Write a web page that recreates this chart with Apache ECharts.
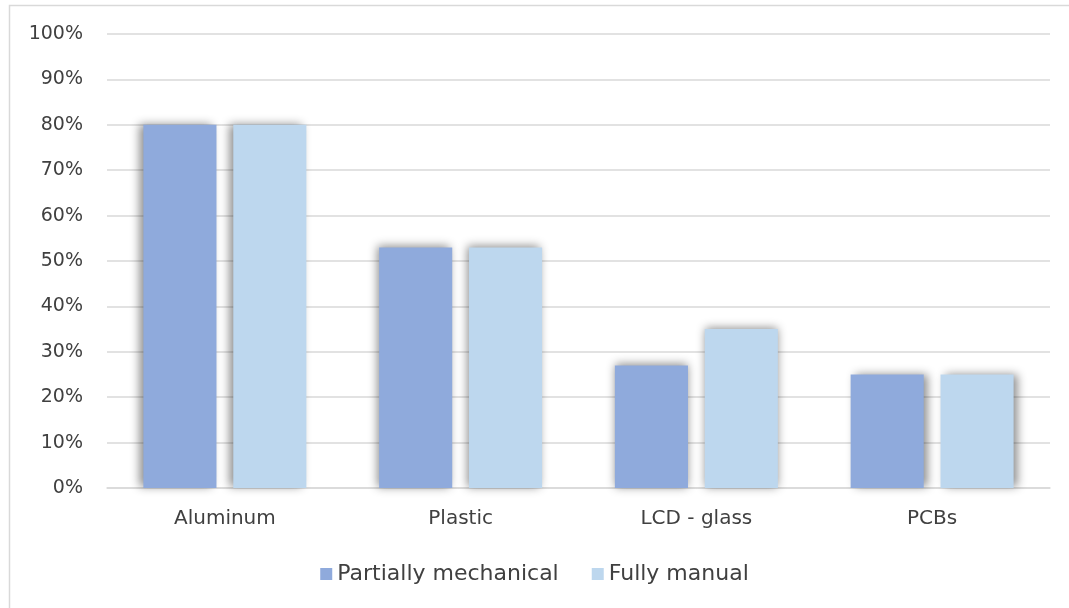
<!DOCTYPE html>
<html>
<head>
<meta charset="utf-8">
<script src="https://cdn.jsdelivr.net/npm/echarts@6/dist/echarts.min.js"></script>
<style>
  html, body { margin: 0; padding: 0; background: #ffffff; }
  #chart { width: 1069px; height: 608px; }
</style>
</head>
<body>
<div id="chart"></div>
<script>
// Share of material recovered, by dismantling method
const categories = ['Aluminum', 'Plastic', 'LCD - glass', 'PCBs'];
const partiallyMechanical = [80, 53, 27, 25];
const fullyManual = [80, 53, 35, 25];
const yTicks = [0, 10, 20, 30, 40, 50, 60, 70, 80, 90, 100];

// Soft drop shadow that leans outward from the chart centre
const shadowShift = [-4, -2, 0, 4];

const textColor = '#404040';
const fontFamily = '"DejaVu Sans", "Open Sans", sans-serif';

function withShadow(values) {
  return values.map((v, i) => ({
    value: v,
    itemStyle: {
      shadowBlur: 9,
      shadowColor: 'rgba(0,0,0,0.45)',
      shadowOffsetX: shadowShift[i],
      shadowOffsetY: -1
    }
  }));
}

const chart = echarts.init(document.getElementById('chart'), null, { renderer: 'canvas' });
chart.setOption({
  animation: false,
  backgroundColor: '#ffffff',
  textStyle: { fontFamily: fontFamily, color: textColor },
  graphic: [{
    type: 'rect',
    shape: { x: 9.5, y: 5.5, width: 1080, height: 620 },
    style: { fill: 'none', stroke: '#d9d9d9', lineWidth: 1.5 },
    silent: true,
    z: -10
  }],
  grid: { left: 107, right: 19, top: 34, bottom: 120, containLabel: false },
  legend: {
    top: 558,
    left: 'center',
    itemWidth: 12,
    itemHeight: 12,
    itemGap: 33,
    icon: 'rect',
    textStyle: { fontSize: 22, color: textColor, fontFamily: fontFamily },
    data: ['Partially mechanical', 'Fully manual']
  },
  xAxis: {
    type: 'category',
    data: categories,
    axisTick: { show: false },
    axisLine: { lineStyle: { color: '#d9d9d9', width: 1.5 } },
    axisLabel: { fontSize: 20, color: textColor, margin: 21, fontFamily: fontFamily }
  },
  yAxis: {
    type: 'value',
    min: yTicks[0],
    max: yTicks[yTicks.length - 1],
    interval: yTicks[1] - yTicks[0],
    axisLine: { show: false },
    axisTick: { show: false },
    splitLine: { lineStyle: { color: '#d9d9d9', width: 1.5 } },
    axisLabel: { fontSize: 19, color: textColor, margin: 24, formatter: '{value}%', fontFamily: fontFamily }
  },
  series: [
    {
      name: 'Partially mechanical',
      type: 'bar',
      data: withShadow(partiallyMechanical),
      barWidth: '31%',
      barGap: '23%',
      itemStyle: { color: '#8faadc' }
    },
    {
      name: 'Fully manual',
      type: 'bar',
      data: withShadow(fullyManual),
      barWidth: '31%',
      barGap: '23%',
      itemStyle: { color: '#bdd7ee' }
    }
  ]
});
</script>
</body>
</html>
